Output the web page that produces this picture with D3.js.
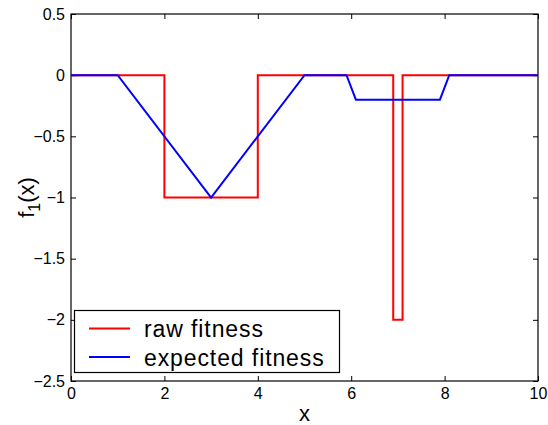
<!DOCTYPE html>
<html>
<head>
<meta charset="utf-8">
<script src="https://cdn.jsdelivr.net/npm/d3@7"></script>
<style>
  html, body { margin: 0; padding: 0; background: #fff; }
  svg { display: block; font-family: "Liberation Sans", Arial, Helvetica, sans-serif; }
</style>
</head>
<body>
<svg id="chart" width="548" height="425"></svg>
<script>
// Raw fitness: step profile with a wide trough and a narrow spike
const rawX = [0, 2, 2, 4, 4, 6.9, 6.9, 7.1, 7.1, 10];
const rawY = [0, 0, -1, -1, 0, 0, -2, -2, 0, 0];

// Expected fitness: smoothed version of the same profile
const expX = [0, 1, 3, 5, 5.9, 6.1, 7.9, 8.1, 10];
const expY = [0, 0, -1, 0, 0, -0.2, -0.2, 0, 0];

const xTicks = [0, 2, 4, 6, 8, 10];
const yTicks = [0.5, 0, -0.5, -1, -1.5, -2, -2.5];
const seriesNames = ["raw fitness", "expected fitness"];
const seriesColors = ["#ff0000", "#0000ff"];

const svg = d3.select("#chart");
const margin = { left: 71, right: 10, top: 14, bottom: 44 };
const W = 548, H = 425;

const x = d3.scaleLinear().domain([0, 10]).range([margin.left, W - margin.right]);
const y = d3.scaleLinear().domain([-2.5, 0.5]).range([H - margin.bottom, margin.top]);

const fmt = d => (d < 0 ? "\u2212" : "") + String(Math.abs(d));
const tickLen = 5;

// Axes with inward ticks on all four sides
svg.append("g")
  .attr("transform", `translate(0,${y(-2.5)})`)
  .call(d3.axisBottom(x).tickValues(xTicks).tickSize(-tickLen).tickPadding(7).tickFormat(fmt))
  .call(g => g.select(".domain").remove());
svg.append("g")
  .attr("transform", `translate(0,${y(0.5)})`)
  .call(d3.axisTop(x).tickValues(xTicks).tickSize(-tickLen).tickFormat(""))
  .call(g => g.select(".domain").remove());
svg.append("g")
  .attr("transform", `translate(${x(0)},0)`)
  .call(d3.axisLeft(y).tickValues(yTicks).tickSize(-tickLen).tickPadding(6).tickFormat(fmt))
  .call(g => g.select(".domain").remove());
svg.append("g")
  .attr("transform", `translate(${x(10)},0)`)
  .call(d3.axisRight(y).tickValues(yTicks).tickSize(-tickLen).tickFormat(""))
  .call(g => g.select(".domain").remove());

svg.selectAll(".tick line").attr("stroke", "#000").attr("stroke-width", 1);
svg.selectAll(".tick text").attr("fill", "#000").style("font-size", "16px");

// Plot box
svg.append("rect")
  .attr("x", x(0)).attr("y", y(0.5))
  .attr("width", x(10) - x(0)).attr("height", y(-2.5) - y(0.5))
  .attr("fill", "none").attr("stroke", "#000").attr("stroke-width", 1.2);

// Series lines
const line = d3.line().x(d => x(d[0])).y(d => y(d[1]));
const series = [
  d3.zip(rawX, rawY),
  d3.zip(expX, expY)
];
series.forEach((pts, i) => {
  svg.append("path")
    .datum(pts)
    .attr("d", line)
    .attr("fill", "none")
    .attr("stroke", seriesColors[i])
    .attr("stroke-width", 2)
    .attr("stroke-linejoin", "miter");
});

// Axis labels
svg.append("text")
  .attr("x", (x(0) + x(10)) / 2).attr("y", 421)
  .attr("text-anchor", "middle")
  .style("font-size", "22px")
  .text("x");

const yl = svg.append("text")
  .attr("transform", `translate(34,${(y(0.5) + y(-2.5)) / 2}) rotate(-90)`)
  .attr("text-anchor", "middle")
  .style("font-size", "22px");
yl.append("tspan").text("f");
yl.append("tspan").attr("dy", 6).style("font-size", "16px").text("1");
yl.append("tspan").attr("dy", -6).text("(x)");

// Legend
const lg = svg.append("g");
lg.append("rect")
  .attr("x", 74.5).attr("y", 310.5)
  .attr("width", 265).attr("height", 62)
  .attr("fill", "#fff").attr("stroke", "#000").attr("stroke-width", 1.2);
seriesNames.forEach((name, i) => {
  const cy = 328.5 + i * 28.5;
  lg.append("line")
    .attr("x1", 89).attr("x2", 130)
    .attr("y1", cy).attr("y2", cy)
    .attr("stroke", seriesColors[i]).attr("stroke-width", 2);
  lg.append("text")
    .attr("x", 144).attr("y", cy + 8.5)
    .style("font-size", "23px")
    .style("letter-spacing", "0.9px")
    .text(name);
});
</script>
</body>
</html>
